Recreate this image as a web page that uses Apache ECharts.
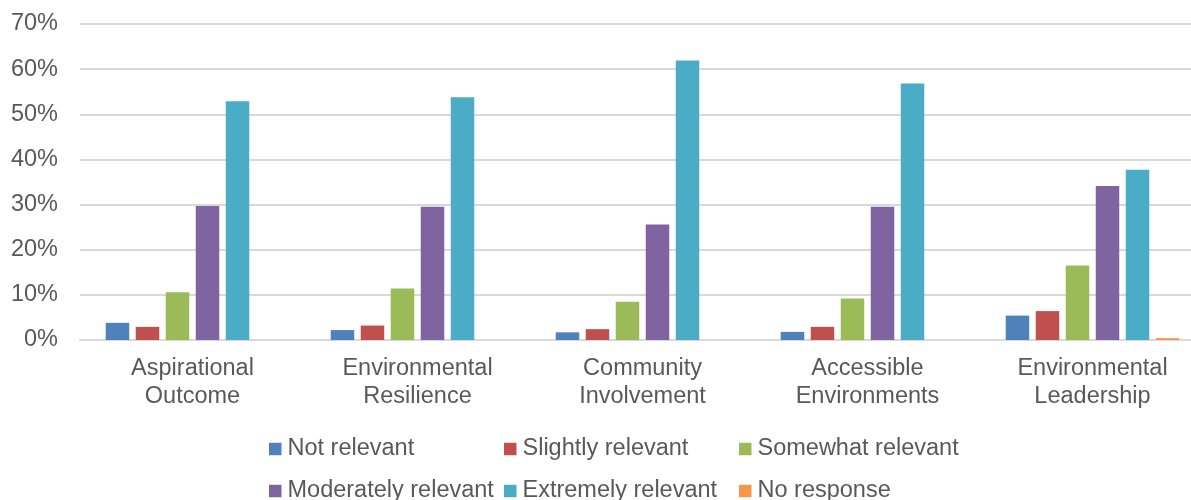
<!DOCTYPE html>
<html>
<head>
<meta charset="utf-8">
<script src="https://cdn.jsdelivr.net/npm/echarts@6/dist/echarts.min.js"></script>
<style>
  html, body { margin: 0; padding: 0; background: #fff; overflow: hidden; }
  /* the source chart is cropped on the right, so draw wider than the window */
  #chart { width: 1205px; height: 500px; }
</style>
</head>
<body>
<div id="chart"></div>
<script>
// categories + values (percent)
var categories = ['Aspirational Outcome', 'Environmental Resilience', 'Community Involvement', 'Accessible Environments', 'Environmental Leadership'];
var notRelevant = [3.8, 2.2, 1.7, 1.8, 5.4];
var slightlyRelevant = [2.9, 3.2, 2.4, 2.9, 6.4];
var somewhatRelevant = [10.6, 11.4, 8.5, 9.2, 16.5];
var moderatelyRelevant = [29.7, 29.5, 25.6, 29.5, 34.1];
var extremelyRelevant = [52.9, 53.8, 61.9, 56.8, 37.7];
var noResponse = [0, 0, 0, 0, 0.4];
var yTicks = [0, 10, 20, 30, 40, 50, 60, 70];

var seriesNames = ['Not relevant', 'Slightly relevant', 'Somewhat relevant', 'Moderately relevant', 'Extremely relevant', 'No response'];
var seriesData = [notRelevant, slightlyRelevant, somewhatRelevant, moderatelyRelevant, extremelyRelevant, noResponse];
var colors = ['#4F81BD', '#C0504D', '#9BBB59', '#8064A2', '#4BACC6', '#F79646'];

var font = "'Liberation Sans', Arial, sans-serif";
var textColor = '#595959';

// legend sits in 3 columns x 2 rows like the excel one
var legendLeft = [269, 504, 739];
var legendTop = [437, 479];
var legends = seriesNames.map(function(name, i) {
  return {
    data: [name],
    left: legendLeft[i % 3],
    top: legendTop[Math.floor(i / 3)],
    padding: 0,
    icon: 'rect',
    itemWidth: 12.5,
    itemHeight: 12.5,
    selectedMode: false,
    textStyle: { fontFamily: font, fontSize: 23.5, color: textColor, padding: [0, 0, 0, 1] }
  };
});

var chart = echarts.init(document.getElementById('chart'));
chart.setOption({
  animation: false,
  color: colors,
  textStyle: { fontFamily: font },
  grid: { left: 80, top: 24, right: 0, height: 316 },
  legend: legends,
  xAxis: {
    type: 'category',
    data: categories,
    axisTick: { show: false },
    axisLine: { lineStyle: { color: '#d9d9d9', width: 2 } },
    axisLabel: {
      interval: 0,
      margin: 15,
      color: textColor,
      fontSize: 23.5,
      lineHeight: 28,
      fontFamily: font,
      formatter: function(v) { return v.replace(' ', '\n'); }
    }
  },
  yAxis: {
    type: 'value',
    min: yTicks[0],
    max: yTicks[yTicks.length - 1],
    interval: 10,
    axisLine: { show: false },
    axisTick: { show: false },
    axisLabel: { margin: 22, color: textColor, fontSize: 23.5, fontFamily: font, formatter: '{value}%' },
    splitLine: { lineStyle: { color: '#d9d9d9', width: 2 } }
  },
  series: seriesNames.map(function(name, i) {
    return {
      name: name,
      type: 'bar',
      data: seriesData[i],
      barWidth: 23.5,
      barGap: '27.7%'
    };
  })
});
</script>
</body>
</html>
